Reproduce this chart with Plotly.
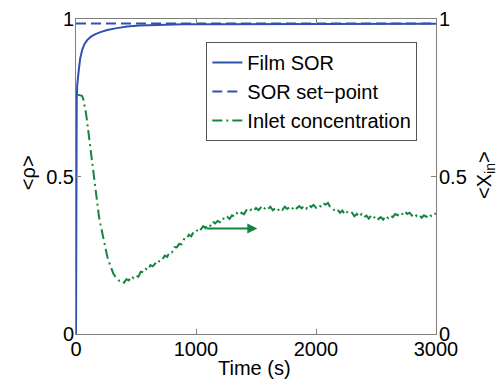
import plotly.graph_objects as go

# Film SOR response (left axis)
t_sor = [0, 1, 3, 6, 10, 15, 23, 35, 52, 70, 93, 125, 162, 210, 260, 340, 426,
         530, 645, 770, 895, 1100, 1400, 1800, 2300, 3000]
sor = [0.0, 0.30, 0.60, 0.74, 0.79, 0.815, 0.838, 0.875, 0.902, 0.920, 0.933,
       0.944, 0.952, 0.959, 0.965, 0.971, 0.976, 0.979, 0.981, 0.982, 0.983,
       0.9835, 0.984, 0.9845, 0.985, 0.985]

# SOR set-point
t_set = [0, 3000]
setpoint = [0.986, 0.986]

# Inlet concentration (right axis): fast initial drop
t_in_head = [10, 30, 50, 60, 70, 80, 90, 100, 110, 120, 130, 140, 150, 160, 170,
             180, 190, 200, 210, 220, 230, 240, 250, 260, 270, 280, 290, 300,
             310, 320, 330, 340, 350, 360]
x_in_head = [0.760, 0.759, 0.756, 0.747, 0.730, 0.708, 0.682, 0.650, 0.618,
             0.585, 0.551, 0.518, 0.486, 0.455, 0.427, 0.401, 0.377, 0.355,
             0.335, 0.315, 0.296, 0.278, 0.262, 0.247, 0.234, 0.222, 0.211,
             0.201, 0.193, 0.186, 0.180, 0.175, 0.172, 0.169]

# Inlet concentration, sampled every 20 s from 380 s to 3000 s
t_in_tail = list(range(380, 3001, 20))
x_in_tail = [
    0.171, 0.163, 0.174, 0.170, 0.183, 0.177, 0.185, 0.182, 0.198, 0.196,
    0.207, 0.203, 0.219, 0.215, 0.224, 0.221, 0.237, 0.237, 0.249, 0.245,
    0.260, 0.259, 0.276, 0.275, 0.286, 0.285, 0.301, 0.300, 0.315, 0.310,
    0.324, 0.323, 0.337, 0.332, 0.342, 0.336, 0.348, 0.344, 0.357, 0.351,
    0.359, 0.355, 0.368, 0.364, 0.372, 0.365, 0.377, 0.373, 0.384, 0.377,
    0.385, 0.380, 0.393, 0.387, 0.395, 0.390, 0.400, 0.393, 0.401, 0.393,
    0.403, 0.397, 0.404, 0.393, 0.399, 0.391, 0.400, 0.394, 0.404, 0.397,
    0.403, 0.396, 0.406, 0.399, 0.406, 0.399, 0.406, 0.398, 0.410, 0.403,
    0.410, 0.401, 0.410, 0.405, 0.415, 0.411, 0.416, 0.401, 0.399, 0.389,
    0.394, 0.385, 0.392, 0.379, 0.387, 0.381, 0.385, 0.374, 0.381, 0.372,
    0.381, 0.371, 0.376, 0.366, 0.376, 0.368, 0.375, 0.365, 0.371, 0.363,
    0.375, 0.368, 0.376, 0.371, 0.381, 0.377, 0.386, 0.381, 0.390, 0.381,
    0.385, 0.376, 0.383, 0.374, 0.378, 0.369, 0.377, 0.372, 0.381, 0.375,
    0.384, 0.381,
]

t_in = t_in_head + t_in_tail
x_in = x_in_head + x_in_tail

# Arrow marking which axis the inlet curve belongs to
arrow_t = [1078, 1511]
arrow_level = 0.335

x_ticks = [0, 1000, 2000, 3000]
y_ticks = [0, 0.5, 1]
y_tick_text = ["0", "0.5", "1"]

BLUE = "#2f52b0"
GREEN = "#138540"
AXIS = "#808080"
FONT = "Liberation Sans, Arial, Helvetica, sans-serif"

fig = go.Figure()
fig.add_trace(go.Scatter(x=t_sor, y=sor, mode="lines", name="Film SOR",
                         line=dict(color=BLUE, width=2)))
fig.add_trace(go.Scatter(x=t_set, y=setpoint, mode="lines", name="SOR set\u2212point",
                         line=dict(color=BLUE, width=2, dash="10px,5px")))
fig.add_trace(go.Scatter(x=t_in, y=x_in, mode="lines", name="Inlet concentration",
                         yaxis="y2",
                         line=dict(color=GREEN, width=2, dash="10px,4px,2px,4px")))

fig.add_annotation(x=arrow_t[1], y=arrow_level, ax=arrow_t[0], ay=arrow_level,
                   xref="x", yref="y2", axref="x", ayref="y2", text="",
                   showarrow=True, arrowhead=2, arrowsize=1.0, arrowwidth=2,
                   arrowcolor=GREEN)

# Axis titles
title_font = dict(family=FONT, size=20, color="black")
fig.add_annotation(text="Time (s)", xref="paper", yref="paper", x=0.497, y=-0.108,
                   xanchor="center", yanchor="middle", showarrow=False,
                   font=title_font)
fig.add_annotation(text="&lt;\u03c1&gt;", xref="paper", yref="paper", x=-0.133,
                   y=0.511, xanchor="center", yanchor="middle", textangle=-90,
                   showarrow=False, font=title_font)
fig.add_annotation(text="&lt;X<sub>in</sub>&gt;", xref="paper", yref="paper",
                   x=1.139, y=0.505, xanchor="center", yanchor="middle",
                   textangle=-90, showarrow=False, font=title_font)

axis_common = dict(showline=True, linecolor=AXIS, linewidth=1, ticks="inside",
                   ticklen=5, tickcolor=AXIS, showgrid=False, zeroline=False,
                   automargin=False,
                   tickfont=dict(family=FONT, size=20, color="black"))

fig.update_layout(
    width=501, height=379,
    margin=dict(l=76, r=65, t=19, b=45),
    paper_bgcolor="white", plot_bgcolor="white",
    font=dict(family=FONT, size=20, color="black"),
    showlegend=True,
    legend=dict(x=0.362, y=0.927, xanchor="left", yanchor="top",
                bgcolor="white", bordercolor="#555555", borderwidth=1,
                font=dict(family=FONT, size=20, color="black"),
                tracegroupgap=0),
    xaxis=dict(range=[0, 3000], tickvals=x_ticks, mirror="ticks",
               ticklabelstandoff=-3, **axis_common),
    yaxis=dict(range=[0, 1], tickvals=y_ticks, ticktext=y_tick_text,
               ticklabelstandoff=-3, **axis_common),
    yaxis2=dict(range=[0, 1], tickvals=y_ticks, ticktext=y_tick_text,
                overlaying="y", side="right", ticklabelstandoff=-2,
                **axis_common),
)

fig.write_html("out.html", config={"displayModeBar": False})
